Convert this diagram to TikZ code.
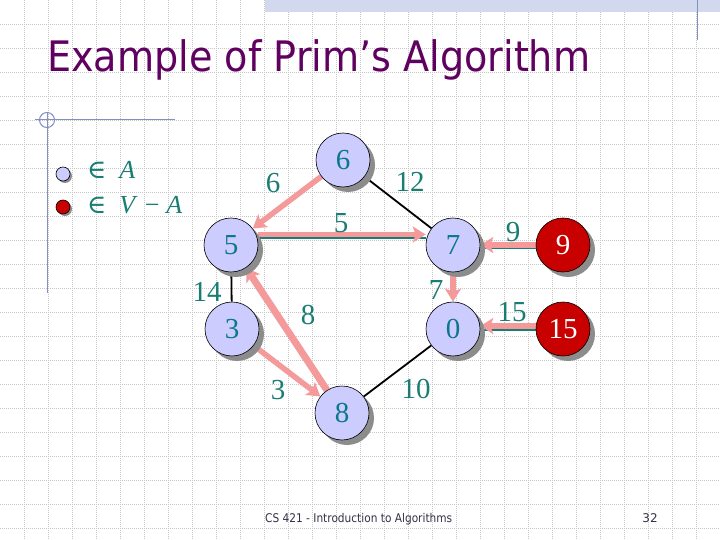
\documentclass[tikz,border=0pt]{standalone}
\usepackage{fontspec}
\setmainfont{Liberation Serif}
\newfontfamily\tahoma{DejaVu Sans}
\newfontfamily\djserif{DejaVu Serif}
\usetikzlibrary{shadows,arrows.meta}
\definecolor{lav}{RGB}{204,204,255}
\definecolor{pinkE}{RGB}{244,154,154}
\definecolor{tealL}{RGB}{25,125,115}
\definecolor{tealN}{RGB}{10,120,140}
\definecolor{redN}{RGB}{200,0,0}
\definecolor{titleC}{RGB}{96,0,96}
\definecolor{deco}{RGB}{128,144,192}
\definecolor{band}{RGB}{210,216,238}
\definecolor{footC}{RGB}{50,50,70}
\pgfdeclarelayer{bg}\pgfdeclarelayer{edges}\pgfsetlayers{bg,edges,main}
\begin{document}
\begin{tikzpicture}[x=1pt,y=-1pt,
 vtx/.style={circle,draw=black,line width=0.6pt,fill=lav,minimum size=54pt,inner sep=0pt,text=tealN,
   font=\fontsize{29}{29}\selectfont,
   drop shadow={shadow xshift=5pt,shadow yshift=-5pt,fill=black!45,opacity=1}},
 rvtx/.style={vtx,fill=redN,text=white},
 legc/.style={circle,draw=black,line width=0.6pt,fill=lav,minimum size=14pt,inner sep=0pt,
   drop shadow={shadow xshift=2pt,shadow yshift=-2pt,fill=black!45,opacity=1}},
 legt/.style={anchor=base west,inner sep=0pt,text=tealL,font=\fontsize{26}{26}\selectfont},
 lbl/.style={text=tealL,font=\fontsize{29}{29}\selectfont,inner sep=0pt},
 tree/.style={draw=pinkE,line width=5.5pt,-{Stealth[length=13pt,width=16pt,inset=3pt]}},
 plain/.style={draw=black,line width=1.8pt},
 under/.style={draw=tealL,line width=2pt},
 gridline/.style={draw=black!22,line width=0.5pt,dash pattern=on 1pt off 1pt},
 decoline/.style={draw=deco,line width=1pt},
]
\useasboundingbox (0,0) rectangle (720,540);
\begin{pgfonlayer}{bg}
\fill[white] (0,0) rectangle (720,540);
\foreach \x in {24,48,...,696} \draw[gridline] (\x,0) -- (\x,540);
\foreach \y in {24,48,...,528} \draw[gridline] (0,\y) -- (720,\y);
\fill[band] (265,0) rectangle (720,12);
\draw[decoline] (697,0) -- (697,40);
\draw[decoline] (35,120) -- (175,120);
\draw[decoline] (47,112) -- (47,293);
\draw[decoline] (47,120) circle[radius=7.5pt];
\end{pgfonlayer}

% title and footer
\node[anchor=base west,inner sep=0pt,text=titleC] (title) at (47,72)
  {\resizebox{543pt}{\height}{\tahoma\fontsize{42}{42}\selectfont Example of Prim’s Algorithm}};
\node[anchor=base west,inner sep=0pt,text=footC] (foot) at (265,522)
  {\resizebox{187pt}{\height}{\tahoma\fontsize{12}{12}\selectfont CS 421 - Introduction to Algorithms}};
\node[anchor=base,inner sep=0pt,text=footC] (page) at (650,522)
  {\tahoma\fontsize{12}{12}\selectfont 32};

% legend
\node[legc] (la) at (63,174) {};
\node[legc,fill=redN] (lb) at (63,207) {};
\node[legt] (lat) at (87,179) {{\djserif ∈}\hspace{13pt}\textit{A}};
\node[legt] (lbt) at (87,214) {{\djserif ∈}\hspace{13pt}\textit{V}\hspace{7pt}−\hspace{7pt}\textit{A}};

% vertices
\node[vtx] (n6) at (343,160) {6};
\node[vtx] (n5) at (231,245) {5};
\node[vtx] (n7) at (453,245) {7};
\node[vtx] (n3) at (232,329) {3};
\node[vtx] (n0) at (453,329) {0};
\node[vtx] (n8) at (342,413) {8};
\node[rvtx] (n9) at (563,245) {9};
\node[rvtx] (n15) at (563,329) {15};

% edges
\begin{pgfonlayer}{edges}
\draw[tree] (n6) -- (n5);
\draw[plain] (n6) -- (n7);
\draw[under] ([yshift=7pt]n5.east) -- ([yshift=7pt]n7.west);
\draw[tree] ([yshift=10.5pt]n5.east) -- ([yshift=10.5pt]n7.west);
\draw[plain] (n5) -- (n3);
\draw[tree,line width=7pt] (n8) -- (n5);
\draw[tree] (n3) -- (n8);
\draw[plain] (n8) -- (n0);
\draw[tree] (n7) -- (n0);
\draw[under] ([yshift=-2.5pt]n9.west) -- ([yshift=-2.5pt]n7.east);
\draw[tree] (n9) -- (n7);
\draw[under] ([yshift=-1pt]n15.west) -- ([yshift=-1pt]n0.east);
\draw[tree] ([yshift=3pt]n15.west) -- ([yshift=3pt]n0.east);
\end{pgfonlayer}

% edge labels
\node[lbl] (e65) at (273,183) {6};
\node[lbl] (e67) at (410,182) {12};
\node[lbl] (e57) at (341,223) {5};
\node[lbl] (e53) at (207,292) {14};
\node[lbl] (e85) at (308,315) {8};
\node[lbl] (e70) at (436,290) {7};
\node[lbl] (e38) at (278,390) {3};
\node[lbl] (e80) at (416,389) {10};
\node[lbl] (e97) at (513,232) {9};
\node[lbl] (e150) at (512,312) {15};
\end{tikzpicture}
\end{document}
